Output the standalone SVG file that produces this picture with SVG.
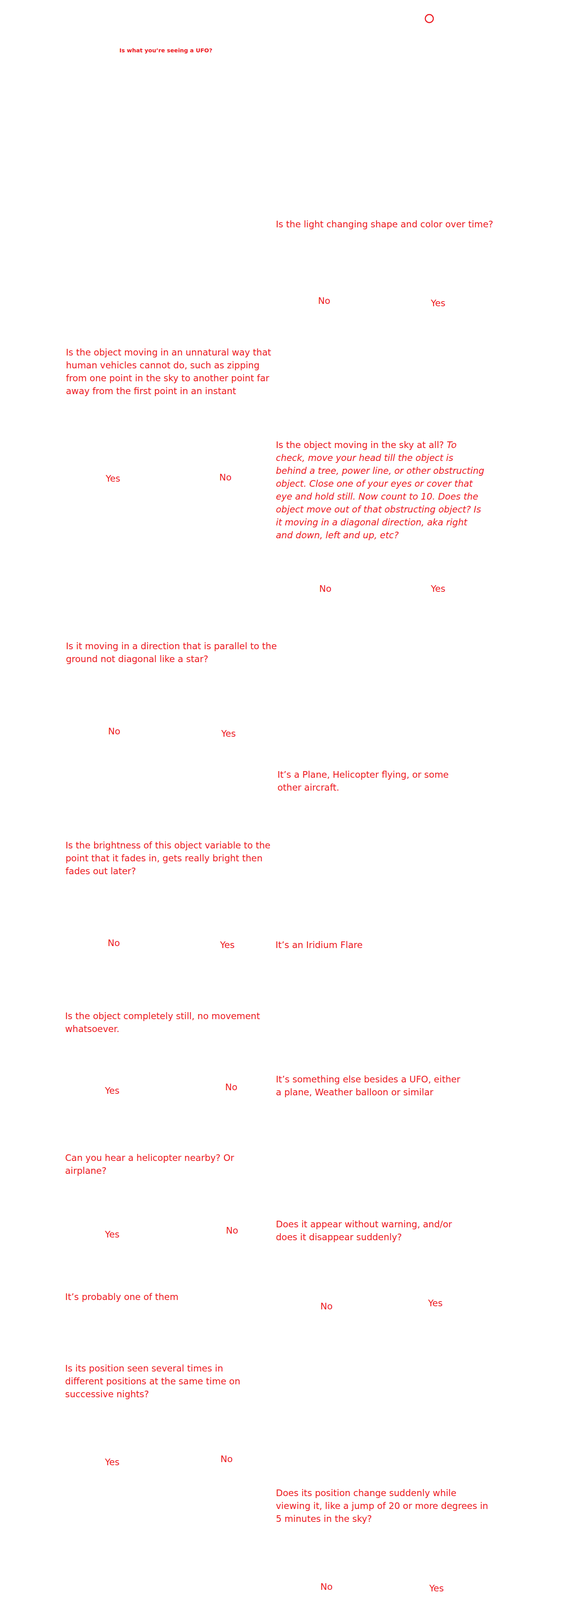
<svg xmlns="http://www.w3.org/2000/svg" width="1440" height="5175" viewBox="0 0 1440 5175">
<style>
  text { font-family: "DejaVu Sans", "Liberation Sans", sans-serif; font-size: 23px; fill: #ED1C24; }
  .title { font-size: 14.5px; font-weight: bold; }
  .it { font-style: italic; }
  .start { fill: none; stroke: #ED1C24; stroke-width: 2.7; }
</style>
<rect width="1440" height="5175" fill="#ffffff"/>
<g id="connectors"></g>

<g id="start"><circle class="start" cx="1100" cy="47.5" r="10.3"/></g>
<g id="title"><text class="title" x="306" y="134">Is what you’re seeing a UFO?</text></g>

<g id="q-light"><text x="707" y="582">Is the light changing shape and color over time?</text></g>
<g id="lbl-light-no"><text x="815" y="778">No</text></g>
<g id="lbl-light-yes"><text x="1104" y="784">Yes</text></g>

<g id="q-unnatural"><text x="169" y="910">
  <tspan x="169" y="910">Is the object moving in an unnatural way that</tspan>
  <tspan x="169" y="943">human vehicles cannot do, such as zipping</tspan>
  <tspan x="169" y="976">from one point in the sky to another point far</tspan>
  <tspan x="169" y="1009">away from the first point in an instant</tspan>
</text></g>
<g id="lbl-unnatural-yes"><text x="271" y="1233">Yes</text></g>
<g id="lbl-unnatural-no"><text x="562" y="1230">No</text></g>

<g id="q-moving"><text x="707" y="1147">
  <tspan x="707" y="1147">Is the object moving in the sky at all? <tspan class="it">To</tspan></tspan>
  <tspan class="it" x="707" y="1180">check, move your head till the object is</tspan>
  <tspan class="it" x="707" y="1213">behind a tree, power line, or other obstructing</tspan>
  <tspan class="it" x="707" y="1246">object. Close one of your eyes or cover that</tspan>
  <tspan class="it" x="707" y="1279">eye and hold still. Now count to 10. Does the</tspan>
  <tspan class="it" x="707" y="1312">object move out of that obstructing object? Is</tspan>
  <tspan class="it" x="707" y="1345">it moving in a diagonal direction, aka right</tspan>
  <tspan class="it" x="707" y="1378">and down, left and up, etc?</tspan>
</text></g>
<g id="lbl-moving-no"><text x="818" y="1515">No</text></g>
<g id="lbl-moving-yes"><text x="1104" y="1515">Yes</text></g>

<g id="q-parallel"><text x="169" y="1662">
  <tspan x="169" y="1662">Is it moving in a direction that is parallel to the</tspan>
  <tspan x="169" y="1695">ground not diagonal like a star?</tspan>
</text></g>
<g id="lbl-parallel-no"><text x="277" y="1880">No</text></g>
<g id="lbl-parallel-yes"><text x="567" y="1886">Yes</text></g>

<g id="r-plane"><text x="711" y="1991">
  <tspan x="711" y="1991">It’s a Plane, Helicopter flying, or some</tspan>
  <tspan x="711" y="2024">other aircraft.</tspan>
</text></g>

<g id="q-brightness"><text x="168" y="2172">
  <tspan x="168" y="2172">Is the brightness of this object variable to the</tspan>
  <tspan x="168" y="2205">point that it fades in, gets really bright then</tspan>
  <tspan x="168" y="2238">fades out later?</tspan>
</text></g>
<g id="lbl-brightness-no"><text x="276" y="2422">No</text></g>
<g id="lbl-brightness-yes"><text x="564" y="2427">Yes</text></g>
<g id="r-iridium"><text x="706" y="2427">It’s an Iridium Flare</text></g>

<g id="q-still"><text x="167" y="2609">
  <tspan x="167" y="2609">Is the object completely still, no movement</tspan>
  <tspan x="167" y="2642">whatsoever.</tspan>
</text></g>
<g id="lbl-still-yes"><text x="269" y="2800">Yes</text></g>
<g id="lbl-still-no"><text x="577" y="2791">No</text></g>
<g id="r-else"><text x="707" y="2771">
  <tspan x="707" y="2771">It’s something else besides a UFO, either</tspan>
  <tspan x="707" y="2804">a plane, Weather balloon or similar</tspan>
</text></g>

<g id="q-helicopter"><text x="167" y="2972">
  <tspan x="167" y="2972">Can you hear a helicopter nearby? Or</tspan>
  <tspan x="167" y="3005">airplane?</tspan>
</text></g>
<g id="lbl-helicopter-yes"><text x="269" y="3168">Yes</text></g>
<g id="lbl-helicopter-no"><text x="579" y="3158">No</text></g>
<g id="q-appear"><text x="707" y="3142">
  <tspan x="707" y="3142">Does it appear without warning, and/or</tspan>
  <tspan x="707" y="3175">does it disappear suddenly?</tspan>
</text></g>

<g id="r-probably"><text x="167" y="3328">It’s probably one of them</text></g>
<g id="lbl-appear-no"><text x="821" y="3352">No</text></g>
<g id="lbl-appear-yes"><text x="1097" y="3344">Yes</text></g>

<g id="q-position"><text x="167" y="3511">
  <tspan x="167" y="3511">Is its position seen several times in</tspan>
  <tspan x="167" y="3544">different positions at the same time on</tspan>
  <tspan x="167" y="3577">successive nights?</tspan>
</text></g>
<g id="lbl-position-yes"><text x="269" y="3751">Yes</text></g>
<g id="lbl-position-no"><text x="565" y="3743">No</text></g>

<g id="q-jump"><text x="707" y="3830">
  <tspan x="707" y="3830">Does its position change suddenly while</tspan>
  <tspan x="707" y="3863">viewing it, like a jump of 20 or more degrees in</tspan>
  <tspan x="707" y="3896">5 minutes in the sky?</tspan>
</text></g>
<g id="lbl-jump-no"><text x="821" y="4070">No</text></g>
<g id="lbl-jump-yes"><text x="1100" y="4074">Yes</text></g>

<g id="q-cars"><text x="167" y="4173">
  <tspan x="167" y="4173">Does going near it cause cars or radio’s to</tspan>
  <tspan x="167" y="4206">break down?</tspan>
</text></g>
<g id="lbl-cars-yes"><text x="266" y="4379">Yes</text></g>
<g id="lbl-cars-no"><text x="565" y="4379">No</text></g>

<g id="q-overcast"><text x="707" y="4470">
  <tspan x="707" y="4470" xml:space="preserve">On an overcast  night, is it something that</tspan>
  <tspan x="707" y="4503">resembles a really bright star that flickers very</tspan>
  <tspan x="707" y="4536">fast with odd colors such as blue or purple?</tspan>
</text></g>
<g id="lbl-overcast-yes"><text x="817" y="4683">Yes</text></g>
<g id="lbl-overcast-no"><text x="1104" y="4683">No</text></g>

<g id="r-notufo"><text x="1036" y="4806">It’s not a UFO</text></g>
</svg>
